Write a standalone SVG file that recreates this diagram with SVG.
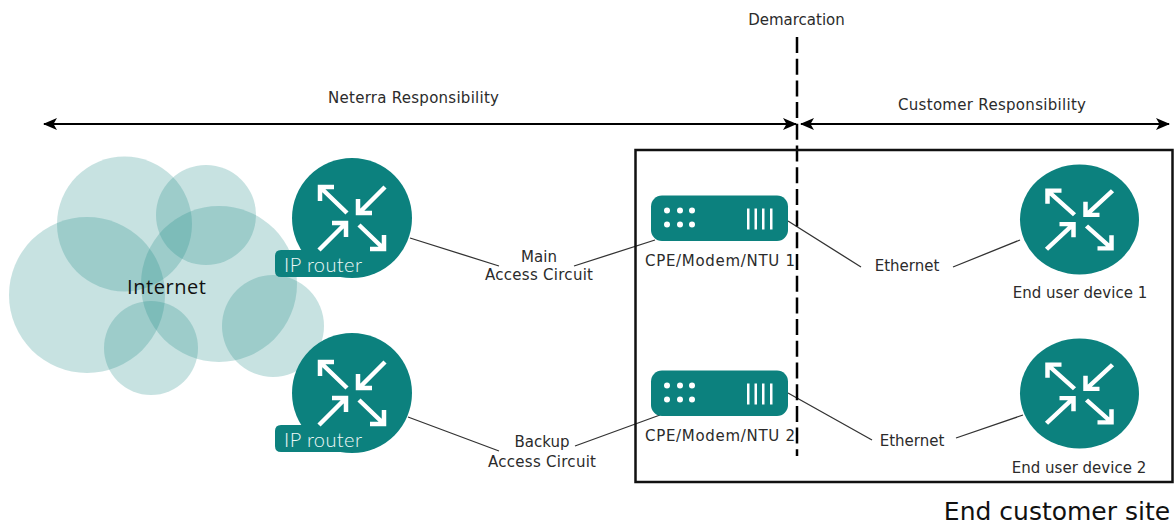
<svg xmlns="http://www.w3.org/2000/svg" width="1176" height="524" viewBox="0 0 1176 524">
<style>
text{font-family:"DejaVu Sans","Liberation Sans",sans-serif;font-size:15px;fill:#2b2b2b;text-anchor:middle}
.c{fill:#1f8a87;fill-opacity:.25}
.t{fill:#0c817e}
.a{fill:none;stroke:#fff;stroke-width:4.5}
.l{fill:none;stroke:#333;stroke-width:1.3}
.k{fill:none;stroke:#000;stroke-width:2}
.w{fill:#fff}
.ip{font-family:"Lato","Liberation Sans",sans-serif;font-weight:300;font-size:20px;fill:#eef8f7}
</style>
<defs>
<marker id="h" viewBox="0 0 14 12" refX="13" refY="6" markerWidth="14" markerHeight="12" markerUnits="userSpaceOnUse" orient="auto-start-reverse"><path d="M0 0L14 6L0 12L3.500 6Z" fill="#000"/></marker>
<g id="arrows">
<path class="a" d="M-5 -5L-31 -30M-32 -17V-31H-18M33 -31L7 -5M6 -19V-5H20M-33 32L-7 6M-20 5H-6V19M7 7L32 31M32 17V31H18"/>
</g>
<g id="box">
<rect class="t" x="0" y="0" width="137" height="45.500" rx="11"/>
<g class="w"><circle cx="16" cy="15" r="3"/><circle cx="29" cy="15" r="3"/><circle cx="41" cy="15" r="3"/><circle cx="16" cy="29" r="3"/><circle cx="29" cy="29" r="3"/><circle cx="41" cy="29" r="3"/>
<rect x="96" y="13" width="2.500" height="21"/><rect x="103.500" y="13" width="2.500" height="21"/><rect x="111" y="13" width="2.500" height="21"/><rect x="119" y="13" width="2.500" height="21"/></g>
</g>
</defs>
<g id="cloud">
<circle class="c" cx="87" cy="295" r="78"/>
<circle class="c" cx="124.500" cy="224" r="67.500"/>
<circle class="c" cx="206" cy="215" r="50"/>
<circle class="c" cx="219" cy="284" r="78"/>
<circle class="c" cx="273" cy="326" r="51"/>
<circle class="c" cx="151" cy="348" r="47"/>
<text x="166.500" y="294" textLength="79" style="font-family:'Open Sans','Liberation Sans',sans-serif;font-size:20px;fill:#111">Internet</text>
</g>
<g id="connectors">
<path class="l" d="M410 238L499 266M574 266L655 240M408 417L499 451M575 446L660 415M788 221L861 267M953 267L1020 240M788 393L872 440M956 438L1023 415"/>
<path d="M797 37V456" fill="none" stroke="#000" stroke-width="2.500" stroke-dasharray="16 5.700"/>
<path class="k" d="M44 124H796" marker-start="url(#h)" marker-end="url(#h)"/>
<path class="k" d="M801 124H1169" marker-start="url(#h)" marker-end="url(#h)"/>
</g>
<g id="site">
<rect x="635.500" y="150" width="537" height="332" fill="none" stroke="#111" stroke-width="2.500"/>
<text x="1057" y="520" style="font-size:25px;fill:#111">End customer site</text>
</g>
<g id="router1">
<circle class="t" cx="352" cy="218" r="60"/>
<path class="t" d="M281 250H352V277H281Q275 277 275 271V256Q275 250 281 250Z"/>
<use href="#arrows" x="352" y="218"/>
<text class="ip" x="323" y="272" textLength="78">IP router</text>
</g>
<g id="router2">
<circle class="t" cx="352" cy="393" r="60"/>
<path class="t" d="M281 425H352V452H281Q275 452 275 446V431Q275 425 281 425Z"/>
<use href="#arrows" x="352" y="393"/>
<text class="ip" x="323" y="447" textLength="78">IP router</text>
</g>
<g id="cpe1">
<use href="#box" x="651" y="195.500"/>
<text x="720" y="266" textLength="150">CPE/Modem/NTU 1</text>
</g>
<g id="cpe2">
<use href="#box" x="651" y="370.500"/>
<text x="720" y="441" textLength="150">CPE/Modem/NTU 2</text>
</g>
<g id="device1">
<ellipse class="t" cx="1079.500" cy="219.500" rx="59.500" ry="55"/>
<use href="#arrows" transform="translate(1079.500 219.500) scale(1 .93)"/>
<text x="1080" y="298">End user device 1</text>
</g>
<g id="device2">
<ellipse class="t" cx="1079.500" cy="393.500" rx="59.500" ry="55"/>
<use href="#arrows" transform="translate(1079.500 393.500) scale(1 .93)"/>
<text x="1079" y="473">End user device 2</text>
</g>
<g id="labels">
<text x="796.500" y="25">Demarcation</text>
<text x="413.500" y="103" textLength="171">Neterra Responsibility</text>
<text x="992" y="110" textLength="188">Customer Responsibility</text>
<text x="539" y="262">Main</text>
<text x="539" y="280" textLength="108">Access Circuit</text>
<text x="542" y="447">Backup</text>
<text x="542" y="467" textLength="108">Access Circuit</text>
<text x="907" y="271">Ethernet</text>
<text x="912" y="446">Ethernet</text>
</g>
</svg>
